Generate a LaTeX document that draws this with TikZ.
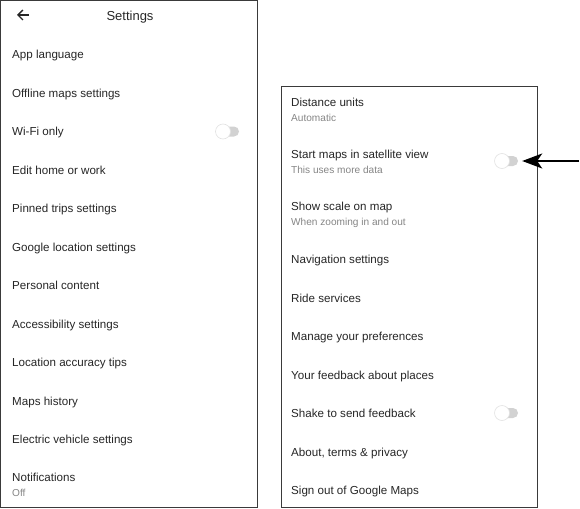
\documentclass[tikz,border=0pt]{standalone}
\usepackage{fontspec}
\setmainfont{Liberation Sans}
\usetikzlibrary{arrows.meta,shapes.misc}
\definecolor{txt}{HTML}{262626}
\definecolor{subtxt}{HTML}{858585}
\definecolor{frame}{HTML}{3A3A3A}
\definecolor{track}{HTML}{D2D2D2}
\definecolor{knobedge}{HTML}{E2E2E2}
\tikzset{
  item/.style={anchor=mid west, inner sep=0pt, text=txt, font=\fontsize{11.6}{13}\selectfont},
  subitem/.style={anchor=mid west, inner sep=0pt, text=subtxt, font=\fontsize{10.1}{11}\selectfont},
  panel/.style={draw=frame, line width=1pt},
  tracksty/.style={rounded rectangle, fill=track, minimum width=20pt, minimum height=10pt, inner sep=0pt},
  knobsty/.style={circle, fill=white, draw=knobedge, line width=0.6pt, minimum size=15pt, inner sep=0pt},
}
\begin{document}
\begin{tikzpicture}[x=1pt,y=-1pt]
\useasboundingbox (0,0) rectangle (580,508);
% panels
\draw[panel] (0.5,0.5) rectangle (257.5,507.5);
\draw[panel] (281,87) rectangle (537.5,507.5);
% header
\coordinate (bs) at (29,15);
\coordinate (be) at (17,15);
\draw[txt, line width=1.3pt, -{Straight Barb[length=5pt,width=10pt]}] (bs) -- (be);
\node[anchor=mid, inner sep=0pt, text=txt, font=\fontsize{13}{15}\selectfont] (title) at (130,17.5) {Settings};
% left list
\node[item] (l1) at (12,56) {App language};
\node[item] (l2) at (12,94.5) {Offline maps settings};
\node[item] (l3) at (12,133) {Wi-Fi only};
\node[item] (l4) at (12,171.5) {Edit home or work};
\node[item] (l5) at (12,210) {Pinned trips settings};
\node[item] (l6) at (12,248.5) {Google location settings};
\node[item] (l7) at (12,287) {Personal content};
\node[item] (l8) at (12,325.5) {Accessibility settings};
\node[item] (l9) at (12,364) {Location accuracy tips};
\node[item] (l10) at (12,402.5) {Maps history};
\node[item] (l11) at (12,441) {Electric vehicle settings};
\node[item] (l12) at (12,479) {Notifications};
\node[subitem] (l12s) at (12,494) {Off};
% left toggle
\node[tracksty] (t1) at (229,131.5) {};
\node[knobsty] (k1) at (223,131.5) {};
% right list
\node[item] (r1) at (291,104) {Distance units};
\node[subitem] (r1s) at (291,119) {Automatic};
\node[item] (r2) at (291,156) {Start maps in satellite view};
\node[subitem] (r2s) at (291,171) {This uses more data};
\node[item] (r3) at (291,208) {Show scale on map};
\node[subitem] (r3s) at (291,223) {When zooming in and out};
\node[item] (r4) at (291,261) {Navigation settings};
\node[item] (r5) at (291,299.5) {Ride services};
\node[item] (r6) at (291,338) {Manage your preferences};
\node[item] (r7) at (291,376.5) {Your feedback about places};
\node[item] (r8) at (291,415) {Shake to send feedback};
\node[item] (r9) at (291,453.5) {About, terms \& privacy};
\node[item] (r10) at (291,492) {Sign out of Google Maps};
% right toggles
\node[tracksty] (t2) at (508,161) {};
\node[knobsty] (k2) at (502,161) {};
\node[tracksty] (t3) at (508,413) {};
\node[knobsty] (k3) at (502,413) {};
% pointer arrow
\coordinate (as) at (579,161);
\draw[black, line width=1.3pt, -{Stealth[length=20pt,width=15pt,inset=5pt]}, shorten >=4pt] (as) -- (t2.east);
\end{tikzpicture}
\end{document}
